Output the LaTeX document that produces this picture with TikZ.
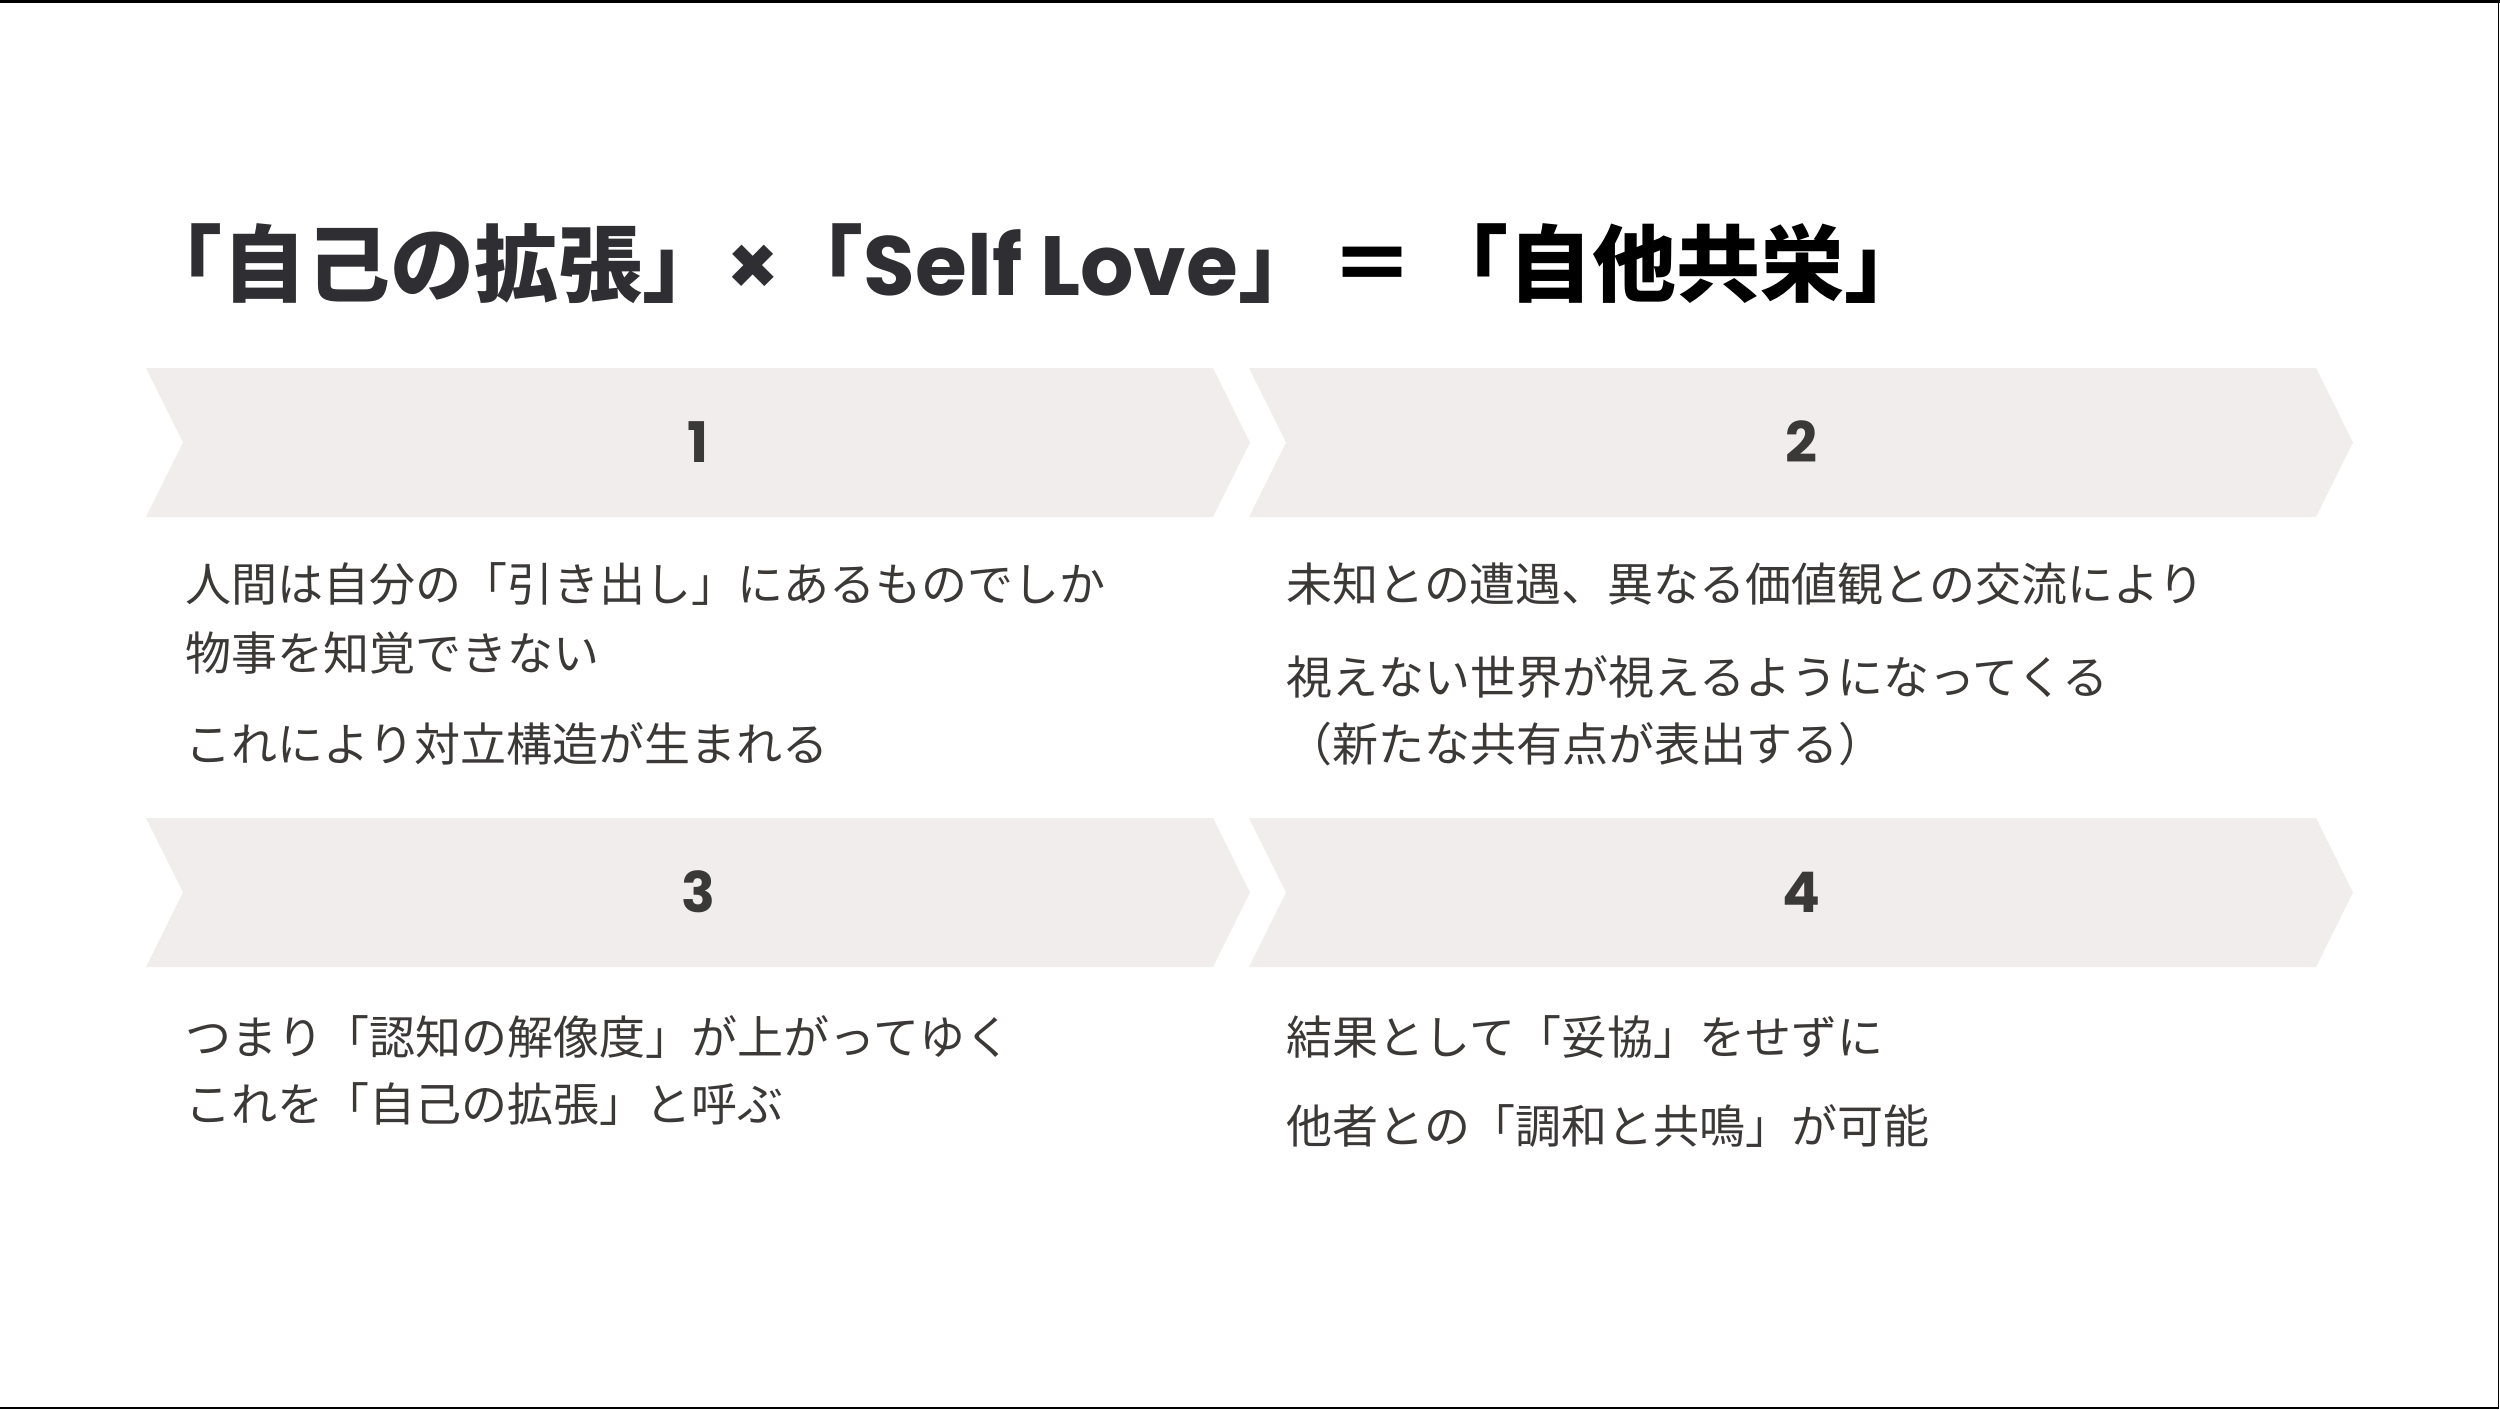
\documentclass[tikz,border=0pt]{standalone}
\usepackage{fontspec}
\setmainfont{Noto Sans CJK JP}
\newfontfamily\lat{Poppins}
\definecolor{chevfill}{HTML}{F0EDEC}
\definecolor{txt}{HTML}{3B3838}
\definecolor{ttl}{HTML}{2E2E33}
\tikzset{
  chev/.style={fill=chevfill, draw=none},
  numlbl/.style={inner sep=0pt, anchor=center, text=txt, font=\lat\bfseries\fontsize{28pt}{32pt}\selectfont},
  bodytxt/.style={inner sep=0pt, anchor=base west, text=txt, font=\fontsize{23pt}{28pt}\selectfont},
  titletxt/.style={inner sep=0pt, anchor=base west, font=\bfseries\fontsize{42pt}{50pt}\selectfont}
}
\newcommand\chevshape[2]{%
  \fill[chev] (#1,#2) -- ++(1067,0) -- ++(37,74.5) -- ++(-37,74.5) -- ++(-1067,0) -- ++(37,-74.5) -- cycle;}
\begin{document}
\begin{tikzpicture}[x=0.5pt,y=-0.5pt]
\useasboundingbox (0,0) rectangle (2500,1409);
% frame lines
\fill[black] (0,0) rectangle (2500,3);
\fill[black] (2497.5,0) rectangle (2499,1409);
\fill[black] (0,1406.5) rectangle (2499,1409);
% title
\node[titletxt] (title) at (138,295) {\textcolor{ttl}{「自己の拡張」{\lat ×}「{\lat Self Love}」}\textcolor{black}{\hspace{4pt}＝\hspace{5pt}「自他共栄」}};
% chevrons
\chevshape{146}{368}
\chevshape{1249}{368}
\chevshape{146}{818}
\chevshape{1249}{818}
\node[numlbl] (n1) at (698,442) {1};
\node[numlbl] (n2) at (1801,442) {2};
\node[numlbl] (n3) at (698,892) {3};
\node[numlbl] (n4) at (1801,892) {4};
% texts
\node[bodytxt] (t1a) at (185,601) {人間は自分の「引き出し」にあるものでしか};
\node[bodytxt] (t1b) at (185,670) {物事を知覚できない};
\node[bodytxt] (t1c) at (185,761) {これにより対立構造が生まれる};
\node[bodytxt] (t2a) at (1286,601) {未知との遭遇、異なる価値観との交流により};
\node[bodytxt] (t2b) at (1286,694) {視えない世界が視えるようになってくる};
\node[bodytxt] (t2c) at (1286,761) {（新たな共有点が表出する）};
\node[bodytxt] (t3a) at (185,1054) {つまり「認知の解像度」が上がってゆく};
\node[bodytxt] (t3b) at (185,1121) {これを「自己の拡張」と呼ぶ};
\node[bodytxt] (t4a) at (1286,1054) {結果として「妥協」をせずに};
\node[bodytxt] (t4b) at (1286,1143) {他者との「調和と共鳴」が可能};
\end{tikzpicture}
\end{document}
